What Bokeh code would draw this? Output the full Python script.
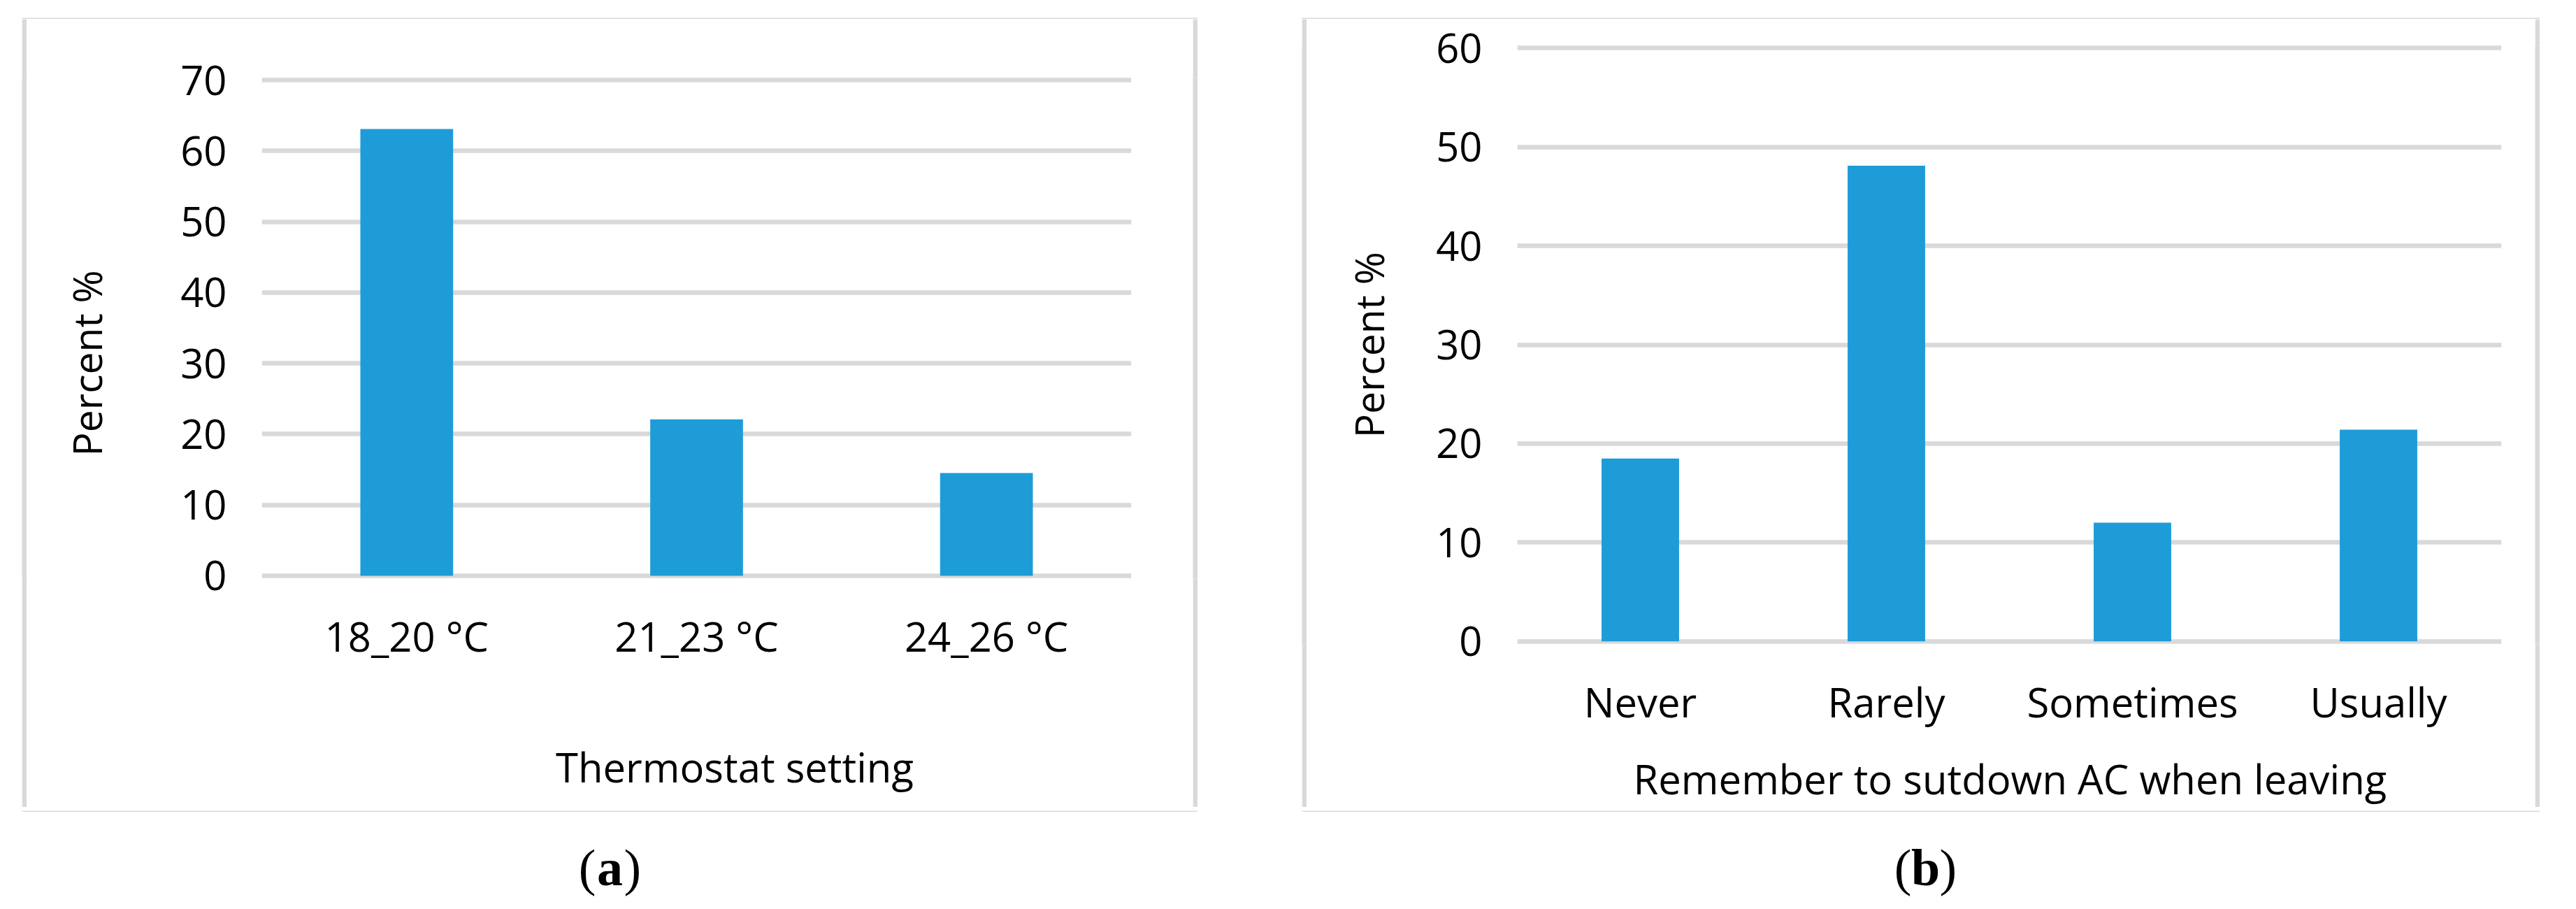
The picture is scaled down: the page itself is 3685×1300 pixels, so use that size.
from bokeh.plotting import figure
from bokeh.models import Range1d, FactorRange, Label, FixedTicker, ColumnDataSource, Title, Spacer
from bokeh.layouts import row, column
from bokeh.embed import file_html
from bokeh.resources import INLINE

# ---------------- data ----------------
thermo_cats = ["18_20 °C", "21_23 °C", "24_26 °C"]
thermo_pct = [63.1, 22.1, 14.5]
thermo_ticks = [0, 10, 20, 30, 40, 50, 60, 70]

remember_cats = ["Never", "Rarely", "Sometimes", "Usually"]
remember_pct = [18.5, 48.1, 12.0, 21.4]
remember_ticks = [0, 10, 20, 30, 40, 50, 60]

BAR = "#1e9cd8"
GRID = "#d9d9d9"
FONT = "Open Sans"
BW = 7            # border thickness of the panel boxes
BOX_TOP = 28      # page y of box outer top
BOX_BOT = 1169    # page y of box outer bottom
PAGE_BOT = 1292


def gray(w, h):
    g = figure(width=w, height=h, x_range=Range1d(0, 1), y_range=Range1d(0, 1),
               output_backend="svg", toolbar_location=None, min_border=0)
    g.axis.visible = False
    g.grid.visible = False
    g.outline_line_color = None
    g.background_fill_color = GRID
    g.border_fill_color = GRID
    return g


def make_panel(cats, vals, ticks, xlabel, caption, g):
    ymax = ticks[-1]
    pad = g["pad"]
    ppu = (g["y0"] - g["ytop"]) / ymax
    frame_top = g["ytop"] - pad * ppu
    frame_bot = g["y0"] + pad * ppu
    fig_l = g["box_l"] + BW
    fig_r = g["box_r"] - BW
    fig_t = BOX_TOP + BW
    fig_b = BOX_BOT - BW

    p = figure(
        width=fig_r - fig_l, height=fig_b - fig_t,
        x_range=FactorRange(factors=cats, range_padding=0),
        y_range=Range1d(-pad, ymax + pad),
        output_backend="svg", toolbar_location=None,
        min_border_left=int(round(g["fl"] - fig_l)),
        min_border_right=int(round(fig_r - g["fr"])),
        min_border_top=int(round(frame_top - fig_t)),
        min_border_bottom=int(round(fig_b - frame_bot)),
    )
    p.outline_line_color = None

    src = ColumnDataSource(dict(cat=cats, pct=vals))
    p.vbar(x="cat", top="pct", bottom=0, width=g["bw"], source=src,
           fill_color=BAR, line_color=None)

    p.xgrid.visible = False
    p.ygrid.grid_line_color = GRID
    p.ygrid.grid_line_width = 6.5
    p.yaxis.ticker = FixedTicker(ticks=ticks)

    for ax, gap in ((p.xaxis[0], g["xgap"]), (p.yaxis[0], g["ygap"])):
        ax.axis_line_color = None
        ax.major_tick_line_color = None
        ax.minor_tick_line_color = None
        ax.major_tick_out = 0
        ax.major_tick_in = 0
        ax.major_label_text_font = FONT
        ax.major_label_text_font_size = "58px"
        ax.major_label_text_color = "black"
        # invisible spacer label: only pushes the axis title outwards
        ax.axis_label = " "
        ax.axis_label_text_font_size = "1px"
        ax.axis_label_text_alpha = 0
        ax.axis_label_standoff = gap
    p.yaxis.major_label_standoff = g["ystand"]
    p.xaxis.major_label_standoff = g["xstand"]

    # axis titles as side-panel titles, left-aligned with an offset so that
    # they sit where the reference has them
    p.add_layout(Title(text=xlabel, align="left",
                       offset=g["xt_cx"] - g["xt_len"] / 2 - g["fl"],
                       standoff=0, text_font=FONT, text_font_size="58px",
                       text_font_style="normal", text_color="black"), "below")
    p.add_layout(Title(text="Percent %", align="left",
                       offset=frame_bot - (g["yt_cy"] + g["yt_len"] / 2),
                       standoff=0, text_font=FONT, text_font_size="57px",
                       text_font_style="normal", text_color="black"), "left")

    box_w = g["box_r"] - g["box_l"]
    mid = row(gray(BW, fig_b - fig_t), p, gray(BW, fig_b - fig_t))

    # caption (a)/(b) in its own strip below the box
    cap_h = PAGE_BOT - BOX_BOT
    cap = figure(width=box_w, height=cap_h, x_range=Range1d(0, box_w), y_range=Range1d(0, cap_h),
                 output_backend="svg", toolbar_location=None, min_border=0)
    cap.axis.visible = False
    cap.grid.visible = False
    cap.outline_line_color = None
    cx = g["cap_x"] - g["box_l"]
    cy = cap_h - (g["cap_base"] - BOX_BOT)
    half = 19
    for txt, x, align, style in (("(", cx - half - 1, "right", "normal"),
                                 (caption, cx, "center", "bold"),
                                 (")", cx + half + 1, "left", "normal")):
        cap.add_layout(Label(x=x, y=cy, text=txt, text_align=align, text_baseline="alphabetic",
                             text_font="Liberation Serif", text_font_style=style,
                             text_font_size="74px", text_color="black"))

    return column(Spacer(width=box_w, height=BOX_TOP - 8),
                  gray(box_w, BW), mid, gray(box_w, BW), cap)


geo_a = dict(box_l=39, box_r=1721, fl=382, fr=1626, ytop=122, y0=831, pad=0.4, bw=0.32,
             ystand=50, xstand=42, ygap=89, xgap=99,
             xt_cx=1056, xt_len=507, yt_cy=531, yt_len=258,
             cap_x=880, cap_base=1248)
geo_b = dict(box_l=1870, box_r=3641, fl=2178, fr=3586, ytop=76, y0=925, pad=0.3, bw=0.315,
             ystand=50, xstand=42, ygap=51, xgap=22,
             xt_cx=2881, xt_len=1074, yt_cy=505, yt_len=258,
             cap_x=2762, cap_base=1248)

pa = make_panel(thermo_cats, thermo_pct, thermo_ticks, "Thermostat setting", "a", geo_a)
pb = make_panel(remember_cats, remember_pct, remember_ticks,
                "Remember to sutdown AC when leaving", "b", geo_b)

layout = row(Spacer(width=geo_a["box_l"] - 8, height=10), pa,
             Spacer(width=geo_b["box_l"] - geo_a["box_r"], height=10), pb)
open("out.html", "w").write(file_html(layout, INLINE, title="Thermostat and AC survey"))
